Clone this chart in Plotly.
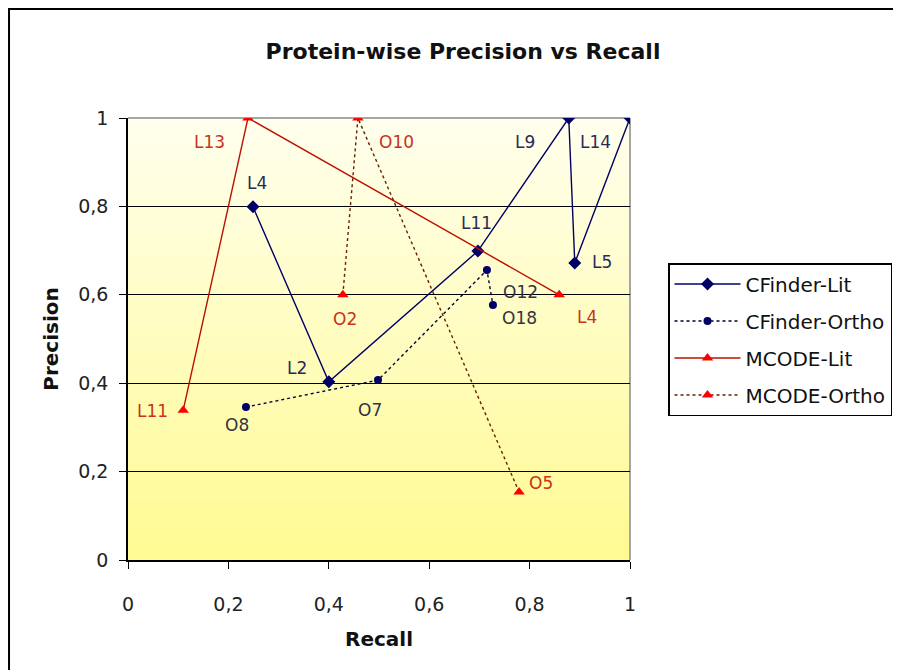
import plotly.graph_objects as go

# ---- data ----
cf_lit_x = [0.249, 0.400, 0.697, 0.878, 0.890, 1.000]
cf_lit_y = [0.799, 0.403, 0.699, 1.000, 0.672, 1.000]
cf_lit_labels = ["L4", "L2", "L11", "L9", "L5", "L14"]

cf_ortho_x = [0.235, 0.498, 0.715, 0.727]
cf_ortho_y = [0.346, 0.407, 0.656, 0.577]
cf_ortho_labels = ["O8", "O7", "O12", "O18"]

mc_lit_x = [0.110, 0.239, 0.859]
mc_lit_y = [0.339, 1.000, 0.600]
mc_lit_labels = ["L11", "L13", "L4"]

mc_ortho_x = [0.428, 0.458, 0.779]
mc_ortho_y = [0.600, 1.000, 0.154]
mc_ortho_labels = ["O2", "O10", "O5"]

tick_vals = [0, 0.2, 0.4, 0.6, 0.8, 1]
tick_text = ["0", "0,2", "0,4", "0,6", "0,8", "1"]

# label pixel offsets (style)
cf_lit_off = [(4, 24), (-32, 14), (-1, 28), (-44, -24), (27, 1), (-35, -24)]
cf_ortho_off = [(-9, -18), (-8, -30), (34, -22), (27, -13)]
mc_lit_off = [(-31, -1), (-38, -24), (28, -22)]
mc_ortho_off = [(2, -24), (39, -24), (22, 9)]

NAVY = "#000066"
RED = "#ff0000"
FONT = "DejaVu Sans, Liberation Sans, Arial, sans-serif"

fig = go.Figure()
fig.add_trace(go.Scatter(x=cf_lit_x, y=cf_lit_y, name="CFinder-Lit", mode="lines+markers",
                         line=dict(color=NAVY, width=1.4),
                         marker=dict(symbol="diamond", size=10, color=NAVY), legendgroup="a"))
fig.add_trace(go.Scatter(x=cf_ortho_x, y=cf_ortho_y, name="CFinder-Ortho", mode="lines+markers",
                         line=dict(color="#000033", width=1.4, dash="dot"),
                         marker=dict(symbol="circle", size=8, color=NAVY), legendgroup="b"))
fig.add_trace(go.Scatter(x=mc_lit_x, y=mc_lit_y, name="MCODE-Lit", mode="lines+markers",
                         line=dict(color="#bb1100", width=1.4),
                         marker=dict(symbol="triangle-up", size=10, color=RED), legendgroup="c"))
fig.add_trace(go.Scatter(x=mc_ortho_x, y=mc_ortho_y, name="MCODE-Ortho", mode="lines+markers",
                         line=dict(color="#662200", width=1.4, dash="dot"),
                         marker=dict(symbol="triangle-up", size=10, color=RED), legendgroup="d"))

annotations = []
def add_labels(xs, ys, labels, offs, color):
    for x, y, t, (dx, dy) in zip(xs, ys, labels, offs):
        annotations.append(dict(x=x, y=y, text=t, showarrow=False, xshift=dx, yshift=dy,
                                font=dict(family=FONT, size=17, color=color)))

add_labels(cf_lit_x, cf_lit_y, cf_lit_labels, cf_lit_off, "#2a2a5a")
add_labels(cf_ortho_x, cf_ortho_y, cf_ortho_labels, cf_ortho_off, "#333344")
add_labels(mc_lit_x, mc_lit_y, mc_lit_labels, mc_lit_off, "#c8321e")
add_labels(mc_ortho_x, mc_ortho_y, mc_ortho_labels, mc_ortho_off, "#c8321e")

# gradient background bands
shapes = []
n = 60
top = (255, 255, 238)
bot = (255, 250, 145)
for i in range(n):
    f = (i + 0.5) / n
    c = tuple(round(top[k] + (bot[k] - top[k]) * f) for k in range(3))
    shapes.append(dict(type="rect", xref="paper", yref="paper", x0=0, x1=1,
                       y0=1 - (i + 1) / n, y1=1 - i / n + 0.002,
                       fillcolor="rgb(%d,%d,%d)" % c, line=dict(width=0), layer="below"))
# plot-area top/right border (gray)
shapes.append(dict(type="line", xref="paper", yref="paper", x0=0, x1=1, y0=1, y1=1,
                   line=dict(color="#888888", width=1.5), layer="between"))
shapes.append(dict(type="line", xref="paper", yref="paper", x0=1, x1=1, y0=0, y1=1,
                   line=dict(color="#888888", width=1.5), layer="between"))
# outer chart frame
shapes.append(dict(type="rect", xref="paper", yref="paper", x0=-0.237, x1=1.7, y0=-0.4, y1=1.2466,
                   line=dict(color="#000000", width=2), fillcolor="rgba(0,0,0,0)", layer="below"))

# page body has an 8px margin -> shift layout up/left by 8px
fig.update_layout(
    width=901, height=670,
    margin=dict(l=120, r=279, t=110, b=118, autoexpand=False),
    paper_bgcolor="white", plot_bgcolor="white",
    font=dict(family=FONT, color="#222222"),
    title=dict(text="<b>Protein-wise Precision vs Recall</b>", x=455 / 901, xanchor="center",
               y=1 - 43 / 670, yanchor="middle",
               font=dict(family=FONT, size=22, color="#111111")),
    xaxis=dict(range=[0, 1], tickvals=tick_vals, ticktext=tick_text, showgrid=False, zeroline=False,
               showline=True, linecolor="black", linewidth=1.5, ticks="outside", ticklen=7,
               tickcolor="black", ticklabelstandoff=19, tickfont=dict(size=19, color="#222222"),
               title=dict(text="<b>Recall</b>", font=dict(size=20, color="#111111"), standoff=18)),
    yaxis=dict(range=[0, 1], tickvals=tick_vals, ticktext=tick_text, showgrid=True, gridcolor="black",
               gridwidth=1.3, zeroline=False, showline=True, linecolor="black", linewidth=1.5,
               ticks="outside", ticklen=7, tickcolor="black", ticklabelstandoff=7,
               tickfont=dict(size=19, color="#222222"),
               title=dict(text="<b>Precision</b>", font=dict(size=20, color="#111111"), standoff=14)),
    legend=dict(xref="container", yref="container",
                x=(668 - 8) / 901, y=1 - (263 - 8) / 670, xanchor="left", yanchor="top",
                bgcolor="white", bordercolor="black", borderwidth=1.5,
                font=dict(family=FONT, size=20, color="#111111"), itemwidth=66,
                tracegroupgap=8),
    annotations=annotations,
    shapes=shapes,
)

fig.write_html("out.html")
